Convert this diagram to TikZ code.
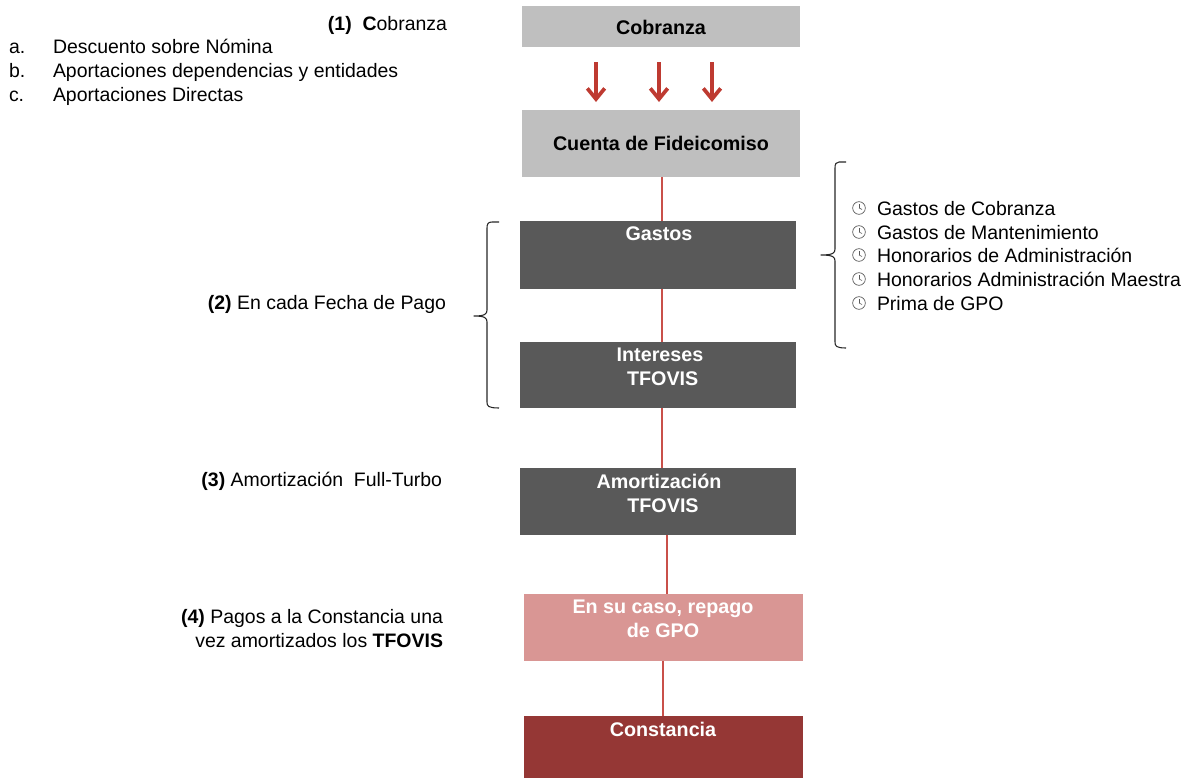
\documentclass[tikz,border=0pt]{standalone}
\usepackage{fontspec}
\setmainfont{Liberation Sans}
\usetikzlibrary{arrows.meta,calc}
\definecolor{lgray}{HTML}{BFBFBF}
\definecolor{dgray}{HTML}{595959}
\definecolor{pinkb}{HTML}{D99694}
\definecolor{dred}{HTML}{953735}
\definecolor{redl}{HTML}{C9504A}
\definecolor{arrowr}{HTML}{BE3A31}
\tikzset{
  lab/.style={font=\fontsize{14.6}{18}\selectfont,text=black,inner sep=0pt,outer sep=0pt},
  boxtxt/.style={font=\fontsize{14.8}{18}\selectfont\bfseries,inner sep=0pt,align=center},
  conn/.style={draw=redl,line width=0.9pt},
  downarr/.style={draw=arrowr,line width=3pt,-{Straight Barb[length=8pt,width=13pt,line width=2.8pt]}},
  brace/.style={draw=black!85,line width=0.8pt,line join=round},
  clockb/.style={circle,draw=black!65,line width=0.5pt,minimum size=9.5pt,inner sep=0pt},
  clockh/.style={draw=black!65,line width=0.5pt}
}
\begin{document}
\begin{tikzpicture}[x=0.75pt,y=-0.75pt]
\useasboundingbox (0,0) rectangle (1182,778);
% boxes
\path[fill=lgray] (522,6) rectangle (800,47);
\node[boxtxt,text=black] (cob) at (661,27) {Cobranza};
\path[fill=lgray] (522,110) rectangle (800,177);
\coordinate (cfs) at (662,177);
\node[boxtxt,text=black] (cf) at (661,143) {Cuenta de Fideicomiso};
\path[fill=dgray] (520,221) rectangle (796,289);
\path[fill=dgray] (520,342) rectangle (796,408);
\path[fill=dgray] (520,468) rectangle (796,535);
\path[fill=pinkb] (524,594) rectangle (803,661);
\path[fill=dred] (524,716) rectangle (803,778);
\coordinate (g1) at (662,221); \coordinate (g2) at (662,289);
\coordinate (i1) at (662,342); \coordinate (i2) at (662,408);
\coordinate (a1) at (662,468); \coordinate (a2) at (667,535);
\coordinate (r1) at (667,594); \coordinate (r2) at (663,661);
\coordinate (c1) at (663,716);
\draw[conn] (cfs) -- (g1);
\draw[conn] (g2) -- (i1);
\draw[conn] (i2) -- (a1);
\draw[conn] (a2) -- (r1);
\draw[conn] (r2) -- (c1);
\node[boxtxt,text=white] (tg) at (659,234) {Gastos};
\node[boxtxt,text=white] (ti) at (660,367) {Intereses\\\hspace*{4pt}TFOVIS};
\node[boxtxt,text=white] (ta) at (659,493) {Amortización\\\hspace*{6pt}TFOVIS};
\node[boxtxt,text=white] (tr) at (663,619) {En su caso, repago\\de GPO};
\node[boxtxt,text=white] (tc) at (663,729) {Constancia};
% arrows
\coordinate (s1) at (596,62); \coordinate (e1) at (596,102);
\coordinate (s2) at (659,62); \coordinate (e2) at (659,102);
\coordinate (s3) at (712,62); \coordinate (e3) at (712,102);
\draw[downarr] (s1) -- (e1);
\draw[downarr] (s2) -- (e2);
\draw[downarr] (s3) -- (e3);
% left labels
\node[lab,anchor=base east] (l1) at (447,31) {\textbf{(1)\ \ C}obranza};
\node[lab,anchor=base west] (la) at (9,53) {a.};
\node[lab,anchor=base west] (lb) at (9,77) {b.};
\node[lab,anchor=base west] (lc) at (9,101) {c.};
\node[lab,anchor=base west] (lat) at (53,53) {Descuento sobre Nómina};
\node[lab,anchor=base west] (lbt) at (53,77) {Aportaciones dependencias y entidades};
\node[lab,anchor=base west] (lct) at (53,101) {Aportaciones Directas};
\node[lab,anchor=base east] (l2) at (446,309) {\textbf{(2)} En cada Fecha de Pago};
\node[lab,anchor=base east] (l3) at (442,486) {\textbf{(3)} Amortización\ \ Full-Turbo};
\node[lab,anchor=east,align=right] (l4) at (443,629) {\textbf{(4)} Pagos a la Constancia una\\vez amortizados los \textbf{TFOVIS}};
% braces
\draw[brace] (499,222) -- (492,222) .. controls (488,222) and (487,224) .. (487,228) -- (487,310) .. controls (487,314) and (485,316) .. (474,316) .. controls (485,316) and (487,318) .. (487,322) -- (487,402) .. controls (487,406) and (488,408) .. (499,408);
\draw[brace] (846,162) -- (839,162) .. controls (836,162) and (835,164) .. (835,168) -- (835,249) .. controls (835,253) and (833,255) .. (821,255) .. controls (833,255) and (835,257) .. (835,261) -- (835,342) .. controls (835,346) and (836,348) .. (846,348);
% list
\foreach \n/\yy/\t in {a/215/Gastos de Cobranza,b/239/Gastos de Mantenimiento,c/262/Honorarios de Administración,d/286/Honorarios Administración Maestra,e/310/Prima de GPO}{
  \node[lab,anchor=base west] (it\n) at (877,\yy) {\t};
  \node[clockb] (ck\n) at (859,\yy-7) {};
  \draw[clockh] (ck\n.center) -- ++(0,-4);
  \draw[clockh] (ck\n.center) -- ++(3,1.5);
}
\end{tikzpicture}
\end{document}
